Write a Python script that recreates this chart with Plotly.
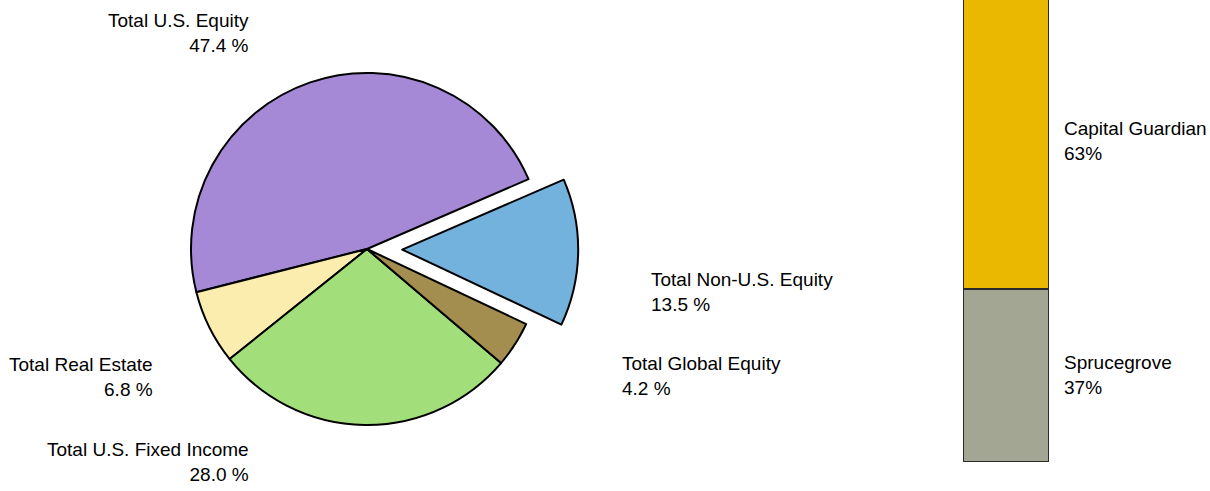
import plotly.graph_objects as go

# Asset allocation (pie)
asset_classes = [
    "Total U.S. Equity",
    "Total Real Estate",
    "Total U.S. Fixed Income",
    "Total Global Equity",
    "Total Non-U.S. Equity",
]
asset_pct = [47.4, 6.8, 28.0, 4.2, 13.5]
asset_colors = ["#A588D6", "#FAEDAE", "#A2DE7A", "#A38E50", "#74B2DE"]
asset_pull = [0, 0, 0, 0, 0.2]

# Non-U.S. equity manager split (stacked bar, bottom to top)
managers = ["Sprucegrove", "Capital Guardian"]
manager_pct = [37, 63]
manager_colors = ["#A3A693", "#EBB800"]

W, H = 1210, 491
FONT = "Liberation Sans, Arial, sans-serif"

# First slice's leading edge sits at 66.6 deg clockwise from 12 o'clock;
# with counterclockwise direction plotly anchors the slice's trailing edge.
start_edge = 66.6
rotation = start_edge - 360 * asset_pct[0] / sum(asset_pct)

fig = go.Figure()

fig.add_trace(go.Pie(
    labels=asset_classes,
    values=asset_pct,
    sort=False,
    direction="counterclockwise",
    rotation=rotation,
    pull=asset_pull,
    marker=dict(colors=asset_colors, line=dict(color="#000000", width=2)),
    textinfo="none",
    hoverinfo="skip",
    showlegend=False,
    domain=dict(x=[155.8 / W, 578.2 / W], y=[30.8 / H, 453.2 / H]),
))

for name, val, col in zip(managers, manager_pct, manager_colors):
    fig.add_trace(go.Bar(
        x=[0],
        y=[val],
        name=name,
        width=1,
        marker=dict(color=col, line=dict(color="#2a2a2a", width=2)),
        hoverinfo="skip",
        showlegend=False,
    ))

# Pie slice labels
pie_label_pos = {
    "Total U.S. Equity": (251, 33, "right"),
    "Total Real Estate": (155, 377, "right"),
    "Total U.S. Fixed Income": (251, 462, "right"),
    "Total Global Equity": (620, 376, "left"),
    "Total Non-U.S. Equity": (649, 292, "left"),
}
annotations = []
for name, val in zip(asset_classes, asset_pct):
    px, py, side = pie_label_pos[name]
    annotations.append(dict(
        text=f"{name}<br>{val:.1f} %",
        xref="paper", yref="paper",
        x=px / W, y=1 - py / H,
        xanchor=side, yanchor="middle", align=side,
        showarrow=False,
        font=dict(family=FONT, size=19, color="#000000"),
    ))

# Bar segment labels at each segment's midpoint
cum = 0
for name, val in zip(managers, manager_pct):
    annotations.append(dict(
        text=f"{name}<br>{val}%",
        xref="x", yref="y",
        x=0.5, y=cum + val / 2,
        xanchor="left", yanchor="middle", align="left",
        xshift=13,
        showarrow=False,
        font=dict(family=FONT, size=19, color="#000000"),
    ))
    cum += val

fig.update_layout(
    width=W, height=H,
    margin=dict(l=0, r=0, t=0, b=0),
    paper_bgcolor="white",
    plot_bgcolor="white",
    barmode="stack",
    bargap=0,
    xaxis=dict(domain=[963 / W, 1049 / W], range=[-0.5, 0.5], visible=False, fixedrange=True),
    yaxis=dict(domain=[29 / H, 1], range=[0, 98.7], visible=False, fixedrange=True),
    annotations=annotations,
    font=dict(family=FONT),
)

fig.write_html("out.html")
